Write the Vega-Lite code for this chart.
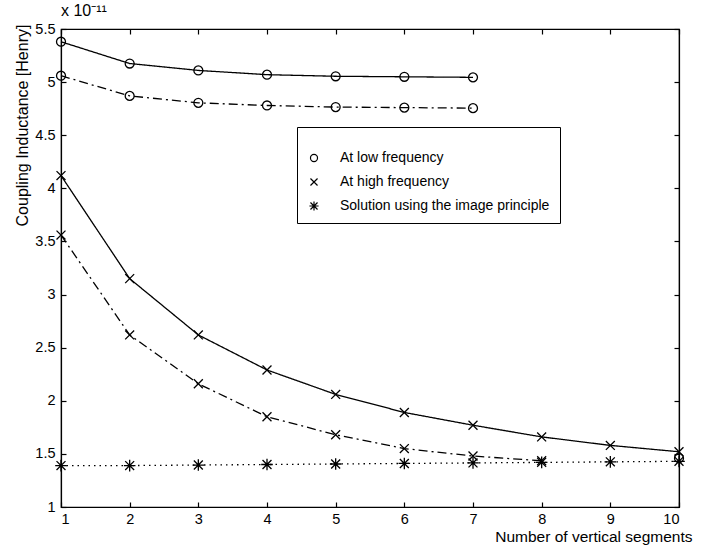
{
  "$schema": "https://vega.github.io/schema/vega-lite/v6.json",
  "width": 618,
  "height": 478,
  "autosize": "none",
  "padding": {"left": 61, "top": 29, "right": 41, "bottom": 38},
  "background": "white",
  "config": {
    "font": "Liberation Sans",
    "view": {"stroke": "black", "strokeWidth": 1.2},
    "axis": {
      "grid": false,
      "domainColor": "black",
      "domainWidth": 1.2,
      "tickColor": "black",
      "tickWidth": 1.2,
      "tickSize": -5,
      "labelColor": "black",
      "labelFontSize": 14.5,
      "labelFont": "Liberation Sans",
      "titleFont": "Liberation Sans",
      "titleFontSize": 16,
      "titleFontWeight": "normal",
      "titleColor": "black"
    }
  },
  "title": {
    "text": "x 10⁻¹¹",
    "anchor": "start",
    "frame": "group",
    "fontSize": 16,
    "fontWeight": "normal",
    "font": "Liberation Sans",
    "color": "black",
    "offset": 2
  },
  "data": {
    "values": [
      {"curve": "low_solid", "series": "At low frequency", "style": "solid", "n": 1, "L": 5.38},
      {"curve": "low_solid", "series": "At low frequency", "style": "solid", "n": 2, "L": 5.175},
      {"curve": "low_solid", "series": "At low frequency", "style": "solid", "n": 3, "L": 5.11},
      {"curve": "low_solid", "series": "At low frequency", "style": "solid", "n": 4, "L": 5.07},
      {"curve": "low_solid", "series": "At low frequency", "style": "solid", "n": 5, "L": 5.055},
      {"curve": "low_solid", "series": "At low frequency", "style": "solid", "n": 6, "L": 5.05},
      {"curve": "low_solid", "series": "At low frequency", "style": "solid", "n": 7, "L": 5.045},
      {"curve": "low_dashdot", "series": "At low frequency", "style": "dashdot", "n": 1, "L": 5.06},
      {"curve": "low_dashdot", "series": "At low frequency", "style": "dashdot", "n": 2, "L": 4.87},
      {"curve": "low_dashdot", "series": "At low frequency", "style": "dashdot", "n": 3, "L": 4.805},
      {"curve": "low_dashdot", "series": "At low frequency", "style": "dashdot", "n": 4, "L": 4.78},
      {"curve": "low_dashdot", "series": "At low frequency", "style": "dashdot", "n": 5, "L": 4.765},
      {"curve": "low_dashdot", "series": "At low frequency", "style": "dashdot", "n": 6, "L": 4.76},
      {"curve": "low_dashdot", "series": "At low frequency", "style": "dashdot", "n": 7, "L": 4.755},
      {"curve": "low_extra", "series": "At low frequency", "style": "solid", "n": 10, "L": 1.46},
      {"curve": "high_solid", "series": "At high frequency", "style": "solid", "n": 1, "L": 4.12},
      {"curve": "high_solid", "series": "At high frequency", "style": "solid", "n": 2, "L": 3.15},
      {"curve": "high_solid", "series": "At high frequency", "style": "solid", "n": 3, "L": 2.62},
      {"curve": "high_solid", "series": "At high frequency", "style": "solid", "n": 4, "L": 2.29},
      {"curve": "high_solid", "series": "At high frequency", "style": "solid", "n": 5, "L": 2.06},
      {"curve": "high_solid", "series": "At high frequency", "style": "solid", "n": 6, "L": 1.89},
      {"curve": "high_solid", "series": "At high frequency", "style": "solid", "n": 7, "L": 1.77},
      {"curve": "high_solid", "series": "At high frequency", "style": "solid", "n": 8, "L": 1.66},
      {"curve": "high_solid", "series": "At high frequency", "style": "solid", "n": 9, "L": 1.58},
      {"curve": "high_solid", "series": "At high frequency", "style": "solid", "n": 10, "L": 1.52},
      {"curve": "high_dashdot", "series": "At high frequency", "style": "dashdot", "n": 1, "L": 3.56},
      {"curve": "high_dashdot", "series": "At high frequency", "style": "dashdot", "n": 2, "L": 2.62},
      {"curve": "high_dashdot", "series": "At high frequency", "style": "dashdot", "n": 3, "L": 2.16},
      {"curve": "high_dashdot", "series": "At high frequency", "style": "dashdot", "n": 4, "L": 1.85},
      {"curve": "high_dashdot", "series": "At high frequency", "style": "dashdot", "n": 5, "L": 1.68},
      {"curve": "high_dashdot", "series": "At high frequency", "style": "dashdot", "n": 6, "L": 1.55},
      {"curve": "high_dashdot", "series": "At high frequency", "style": "dashdot", "n": 7, "L": 1.48},
      {"curve": "high_dashdot", "series": "At high frequency", "style": "dashdot", "n": 8, "L": 1.435},
      {"curve": "image", "series": "Solution using the image principle", "style": "dotted", "n": 1, "L": 1.39},
      {"curve": "image", "series": "Solution using the image principle", "style": "dotted", "n": 2, "L": 1.39},
      {"curve": "image", "series": "Solution using the image principle", "style": "dotted", "n": 3, "L": 1.395},
      {"curve": "image", "series": "Solution using the image principle", "style": "dotted", "n": 4, "L": 1.4},
      {"curve": "image", "series": "Solution using the image principle", "style": "dotted", "n": 5, "L": 1.405},
      {"curve": "image", "series": "Solution using the image principle", "style": "dotted", "n": 6, "L": 1.41},
      {"curve": "image", "series": "Solution using the image principle", "style": "dotted", "n": 7, "L": 1.415},
      {"curve": "image", "series": "Solution using the image principle", "style": "dotted", "n": 8, "L": 1.42},
      {"curve": "image", "series": "Solution using the image principle", "style": "dotted", "n": 9, "L": 1.425},
      {"curve": "image", "series": "Solution using the image principle", "style": "dotted", "n": 10, "L": 1.43}
    ]
  },
  "layer": [
    {
      "mark": {"type": "line", "color": "black", "strokeWidth": 1.3},
      "encoding": {
        "x": {
          "field": "n", "type": "quantitative",
          "scale": {"domain": [1, 10], "nice": false, "zero": false},
          "axis": {
            "orient": "bottom",
            "values": [1, 2, 3, 4, 5, 6, 7, 8, 9, 10],
            "labelPadding": 10,
            "title": "Number of vertical segments",
            "titleFontSize": 15.5,
            "titleAlign": "right",
            "titleBaseline": "top",
            "titleX": 631,
            "titleY": 22
          }
        },
        "y": {
          "field": "L", "type": "quantitative",
          "scale": {"domain": [1, 5.5], "nice": false, "zero": false},
          "axis": {
            "orient": "left",
            "values": [1, 1.5, 2, 2.5, 3, 3.5, 4, 4.5, 5, 5.5],
            "format": "~g",
            "labelPadding": 11,
            "title": "Coupling Inductance [Henry]",
            "titleAngle": -90,
            "titleAlign": "center",
            "titleBaseline": "bottom",
            "titleX": -31,
            "titleY": 96
          }
        },
        "detail": {"field": "curve"},
        "strokeDash": {
          "field": "style", "type": "nominal",
          "scale": {"domain": ["solid", "dashdot", "dotted"], "range": [[1, 0], [9, 4, 2, 4], [1.5, 4]]},
          "legend": null
        }
      }
    },
    {
      "mark": {"type": "point", "filled": false, "color": "black", "strokeWidth": 1.3, "size": 80, "opacity": 1},
      "encoding": {
        "x": {
          "field": "n", "type": "quantitative",
          "axis": {"orient": "top", "values": [1, 2, 3, 4, 5, 6, 7, 8, 9, 10], "labels": false, "title": null}
        },
        "y": {
          "field": "L", "type": "quantitative",
          "axis": {"orient": "right", "values": [1, 1.5, 2, 2.5, 3, 3.5, 4, 4.5, 5, 5.5], "labels": false, "title": null}
        },
        "shape": {
          "field": "series", "type": "nominal",
          "scale": {
            "domain": ["At low frequency", "At high frequency", "Solution using the image principle"],
            "range": ["circle", "M-1,-1L1,1M-1,1L1,-1", "M-1,-1L1,1M-1,1L1,-1M0,-1.3L0,1.3M-1.3,0L1.3,0"]
          },
          "legend": {
            "title": " ",
            "titleFontSize": 10,
            "titlePadding": 4,
            "orient": "none",
            "legendX": 236,
            "legendY": 98,
            "strokeColor": "black",
            "fillColor": "white",
            "padding": 10,
            "rowPadding": 10,
            "labelFontSize": 14,
            "labelFont": "Liberation Sans",
            "labelColor": "black",
            "labelLimit": 400,
            "labelOffset": 19,
            "symbolSize": 50,
            "symbolStrokeColor": "black",
            "symbolStrokeWidth": 1.2,
            "symbolFillColor": "transparent"
          }
        }
      }
    }
  ],
  "resolve": {"axis": {"x": "independent", "y": "independent"}}
}
